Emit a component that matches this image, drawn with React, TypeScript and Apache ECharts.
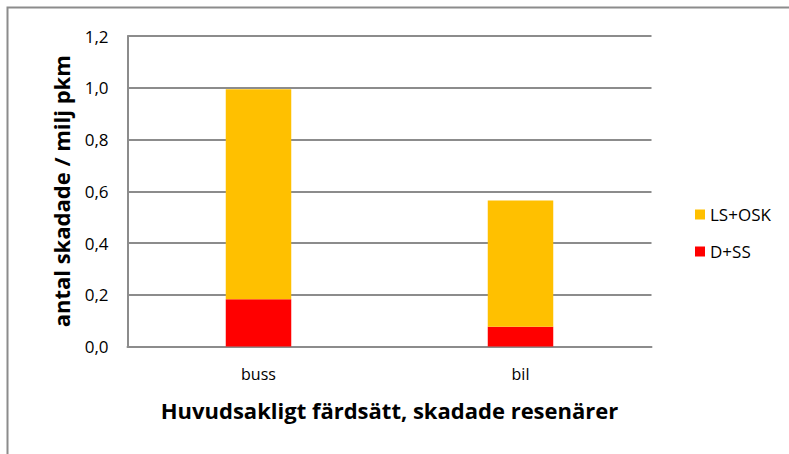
import React, { useEffect, useRef } from "react";
import * as echarts from "echarts";

const categories = ["buss", "bil"];
const dss = [0.183, 0.076];
const lsosk = [0.811, 0.488];
const yTicks = [0, 0.2, 0.4, 0.6, 0.8, 1.0, 1.2];

export default function App() {
  const ref = useRef<HTMLDivElement>(null);
  useEffect(() => {
    const chart = echarts.init(ref.current!, null, { renderer: "svg" });
    const font = "'Open Sans', sans-serif";
    chart.setOption({
      animation: false,
      backgroundColor: "#ffffff",
      textStyle: { fontFamily: font },
      graphic: [
        {
          type: "polyline",
          shape: { points: [[7.5, 460], [7.5, 7.5], [800, 7.5]] },
          style: { stroke: "#8c8c8c", lineWidth: 2, fill: "none" },
          silent: true,
        },
      ],
      grid: { left: 127.5, right: 137.5, top: 36, bottom: 107.5 },
      legend: {
        orient: "vertical",
        left: 690,
        top: 201,
        itemWidth: 10,
        itemHeight: 10,
        itemGap: 20,
        icon: "rect",
        textStyle: { fontSize: 17, color: "#000", fontFamily: font },
        data: ["LS+OSK", "D+SS"],
      },
      xAxis: {
        type: "category",
        data: categories,
        name: "Huvudsakligt färdsätt, skadade resenärer",
        nameLocation: "middle",
        nameGap: 52,
        nameTextStyle: { fontSize: 22, fontWeight: "bold", color: "#000", fontFamily: font },
        axisLine: { lineStyle: { color: "#8c8c8c", width: 2 } },
        axisTick: { show: false },
        axisLabel: { fontSize: 16, color: "#000", margin: 19, fontFamily: font },
      },
      yAxis: {
        type: "value",
        min: 0,
        max: 1.2,
        interval: 0.2,
        name: "antal skadade / milj pkm",
        nameLocation: "middle",
        nameGap: 56,
        nameTextStyle: { fontSize: 22, fontWeight: "bold", color: "#000", fontFamily: font },
        axisLine: { show: true, lineStyle: { color: "#8c8c8c", width: 2 } },
        axisTick: { show: false },
        splitLine: { lineStyle: { color: "#8c8c8c", width: 2 } },
        axisLabel: {
          fontSize: 17,
          color: "#000",
          margin: 19,
          fontFamily: font,
          formatter: (v: number) => {
            const t = yTicks.find((x) => Math.abs(x - v) < 1e-6);
            return (t ?? v).toFixed(1).replace(".", ",");
          },
        },
      },
      series: [
        {
          name: "D+SS",
          type: "bar",
          stack: "a",
          data: dss,
          barWidth: "25%",
          itemStyle: { color: "#ff0000" },
        },
        {
          name: "LS+OSK",
          type: "bar",
          stack: "a",
          data: lsosk,
          barWidth: "25%",
          itemStyle: { color: "#ffc000" },
        },
      ],
    });
    return () => chart.dispose();
  }, []);
  return (
    <div
      ref={ref}
      style={{ position: "fixed", left: 0, top: 0, width: 789, height: 454 }}
    />
  );
}
